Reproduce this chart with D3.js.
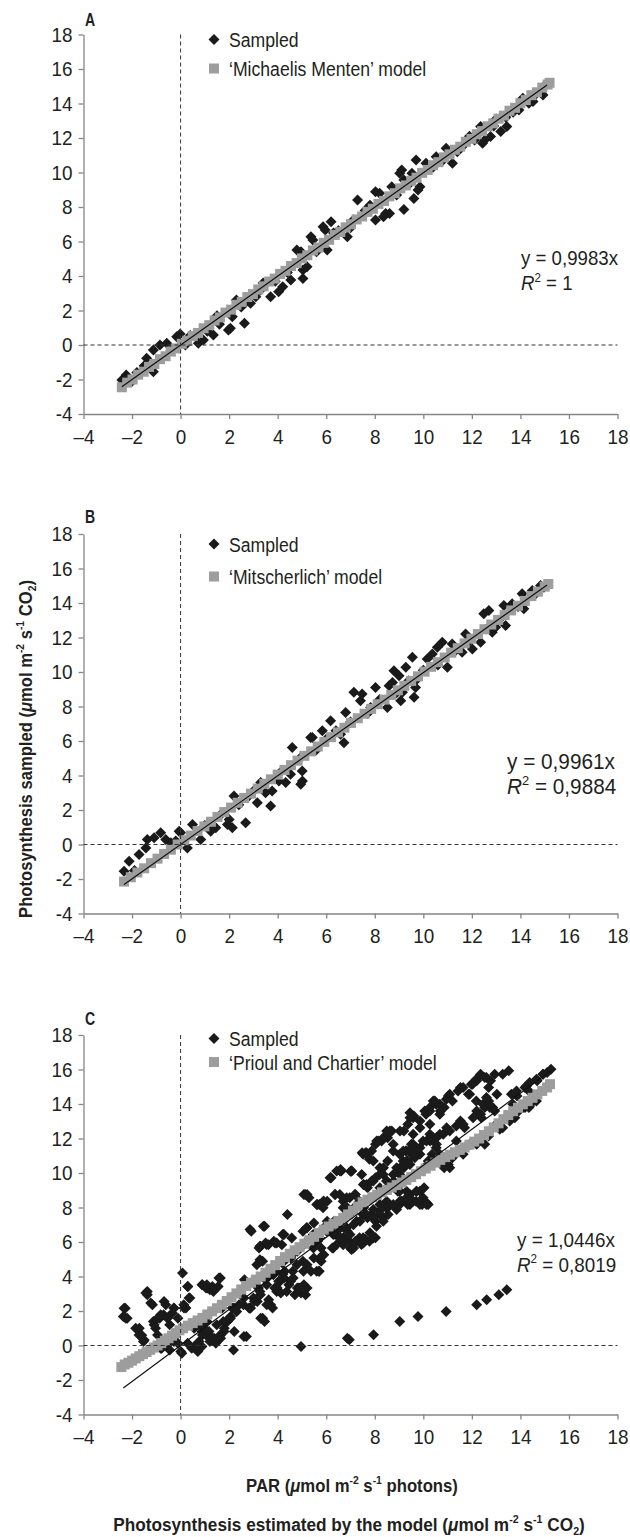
<!DOCTYPE html>
<html>
<head>
<meta charset="utf-8">
<script src="https://cdn.jsdelivr.net/npm/d3@7"></script>
<style>
  body { margin: 0; background: #fff; }
  svg text { font-family: "Liberation Sans", Arial, sans-serif; fill: #231f20; }
</style>
</head>
<body>
<div id="chart"></div>
<script>
// ---- data ----
const tickValues = [-4, -2, 0, 2, 4, 6, 8, 10, 12, 14, 16, 18];
const panelLetters = ['A', 'B', 'C'];
const modelNames = ['\u2018Michaelis Menten\u2019 model', '\u2018Mitscherlich\u2019 model', '\u2018Prioul and Chartier\u2019 model'];
const slopes = [0.9983, 0.9961, 1.0446];
const equations = ['y = 0,9983x', 'y = 0,9961x', 'y = 1,0446x'];
const r2Values = ['1', '0,9884', '0,8019'];

const sampledA = [
  [9.7,10.72],[9.11,10.14],[9.03,9.95],[9.2,9.57],[9.53,9.95],[10.11,10.53],[9.86,9.18],[9.78,8.99],[9.61,8.5],[9.2,7.86],
  [7.29,8.41],[8.03,8.89],[8.2,8.79],[8.7,9.18],[8.45,7.63],[8.61,7.63],[8.03,7.25],[8.36,7.44],
  [6.2,7.15],[5.96,6.67],[5.87,6.86],[6.04,5.51],[6.87,6.28],[7.12,7.25],[5.37,6.28],[5.45,6.09],[4.79,5.51],[4.96,5.41],
  [5.04,4.35],[5.21,4.54],[5.04,3.86],[4.54,3.77],[4.21,3.38],[4.04,3.09],[3.71,2.8],[3.29,3.19],[2.71,2.51],[2.88,2.42],
  [2.3,2.61],[2.13,1.64],[2.05,0.97],[2.63,1.26],[10.94,11.4],[10.53,10.92],[11.2,10.53],
  [12.36,12.66],[12.53,11.88],[12.77,12.08],[13.19,12.37],[13.44,12.66],[12.44,11.69],[12.11,11.88],
  [14.35,14.01],[14.52,14.11],[15.1,15.17],[14.93,14.49],[13.94,13.62],
  [-2.24,-1.74],[-2.42,-2.03],[-1.4,-0.77],[-1.12,-0.29],[-0.85,0],[-0.57,0.1],[-0.16,0.48],[-0.02,0.64],
  [0.73,0.1],[0.94,0.29],[1.35,0.58],[1.97,0.87],[-1.12,-1.55],
  [6.5,6.62],[7.6,7.8],[8.9,8.7],[10.4,10.3],[11.6,11.5],[11.9,12.1],[13.0,13.1],[13.7,13.5],[14.1,14.3],[14.8,14.7],
  [3.4,3.6],[3.9,3.7],[1.5,1.7],[0.4,0.55],[-0.4,-0.3],[-1.8,-1.6],[0.2,0.0],[1.1,0.8],[1.6,1.2],[2.5,2.2],[3.1,2.8],
  [4.4,4.2],[5.6,5.4],[6.3,6.5],[7.0,6.8],[7.8,8.1],[9.4,9.3],[10.8,10.7],[11.4,11.2],[12.9,12.7],[13.4,13.2],
  [14.6,14.5],[15.0,15.0],[-2.0,-2.1],[-1.5,-1.2]
];
const modelA = [
  [-2.42,-2.45],[-2.2,-2.18],[-1.98,-2.0],[-1.75,-1.72],[-1.52,-1.55],[-1.3,-1.27],[-1.08,-1.1],[-0.85,-0.82],[-0.62,-0.65],
  [-0.4,-0.38],[-0.18,-0.2],[0.05,0.07],[0.27,0.25],[0.5,0.52],[0.72,0.7],[0.95,0.97],[1.18,1.15],[1.4,1.42],[1.62,1.6],
  [1.85,1.88],[2.08,2.05],[2.3,2.33],[2.52,2.5],[2.75,2.78],[2.98,2.95],[3.2,3.22],[3.42,3.4],[3.65,3.68],[3.88,3.85],
  [4.1,4.12],[4.32,4.3],[4.55,4.58],[4.78,4.75],[5.0,5.02],[5.22,5.2],[5.45,5.48],[5.68,5.65],[5.9,5.92],[6.12,6.1],
  [6.35,6.38],[6.58,6.55],[6.8,6.82],[7.02,7.0],[7.25,7.28],[7.48,7.45],[7.7,7.72],[7.92,7.9],[8.15,8.18],[8.38,8.35],
  [8.6,8.62],[8.82,8.8],[9.05,9.08],[9.28,9.25],[9.5,9.52],[9.72,9.7],[9.95,9.98],[10.18,10.15],[10.4,10.42],[10.62,10.6],
  [10.85,10.88],[11.08,11.05],[11.3,11.32],[11.52,11.5],[11.75,11.78],[11.98,11.95],[12.2,12.22],[12.42,12.4],[12.65,12.68],
  [12.88,12.85],[13.1,13.12],[13.32,13.3],[13.55,13.58],[13.78,13.75],[14.0,14.02],[14.22,14.2],[14.45,14.48],[14.68,14.65],
  [14.9,14.92],[15.12,15.1],[15.2,15.2]
];

const sampledB = [
  [-2.33,-1.55],[-2.12,-0.97],[-1.71,-0.58],[-1.43,-0.2],[-1.37,0.29],[-1.09,0.39],[-0.82,0.68],[-0.61,0.29],[-0.4,0.1],
  [-0.06,0.77],[0,0.68],[0.28,-0.2],[0.49,1.16],[0.83,0.29],[1.24,0.77],[1.45,0.97],[1.93,1.16],[2.0,1.45],[2.2,2.81],
  [2.13,0.97],[2.68,1.26],[2.74,2.71],[3.16,2.42],[3.5,3.0],[3.71,2.23],[3.77,3.1],[4.05,3.68],[4.33,3.59],[4.53,4.07],
  [4.6,5.62],[4.95,5.04],[4.95,3.49],[5.01,4.26],[5.36,6.2],
  [5.02,3.68],[5.43,6.2],[5.84,6.59],[6.18,7.17],[6.59,6.39],[6.73,5.9],[6.8,7.65],[7.14,8.82],[7.41,8.33],[7.48,8.72],
  [7.83,7.94],[8.03,9.1],[8.52,7.94],[8.59,9.2],[8.73,9.39],[8.79,10.07],[9.0,9.78],[9.07,8.33],[9.14,8.82],[9.28,10.27],
  [9.55,10.85],[9.62,8.53],[9.68,9.1],[9.75,9.59],[10.16,10.75],[10.37,11.04],[10.58,11.43],[10.78,11.72],[10.99,10.27],
  [11.19,11.62],[11.6,11.14],[11.74,12.2],[12.02,11.33],[12.36,11.72],[12.49,13.37],[12.7,13.56],[12.84,12.3],[12.98,12.59],
  [13.32,13.85],[13.39,12.69],[13.66,13.95],[14.14,13.66],[14.07,14.53],[14.49,14.73],[14.83,15.02],[14.97,14.92],
  [-1.9,-1.5],[-0.2,0.2],[1.0,1.1],[1.7,1.8],[2.4,2.3],[3.0,3.1],[3.3,3.6],[4.2,4.3],[5.6,5.5],[6.0,6.1],[6.4,6.6],
  [7.0,7.1],[7.7,7.6],[8.2,8.4],[8.9,8.8],[9.4,9.5],[10.0,10.1],[10.6,10.4],[11.3,11.2],[11.9,11.8],[12.6,12.5],
  [13.1,13.0],[13.9,13.8],[14.6,14.5],[15.1,15.0]
];
const modelB = [
  [-2.33,-2.15],[-2.05,-1.9],[-1.78,-1.62],[-1.5,-1.38],[-1.22,-1.08],[-0.95,-0.82],[-0.68,-0.55],[-0.4,-0.3],[-0.12,0.0],
  [0.15,0.25],[0.42,0.52],[0.7,0.78],[0.98,1.05],[1.25,1.32],[1.52,1.6],[1.8,1.88],[2.08,2.14],[2.35,2.42],[2.62,2.7],
  [2.9,2.95],[3.18,3.24],[3.45,3.52],[3.72,3.78],[4.0,4.05],[4.28,4.32],[4.55,4.6],[4.82,4.86],[5.1,5.14],[5.38,5.4],
  [5.65,5.68],[5.92,5.95],[6.2,6.22],[6.48,6.5],[6.75,6.77],[7.02,7.05],[7.3,7.32],[7.58,7.58],[7.85,7.86],[8.12,8.13],
  [8.4,8.4],[8.68,8.67],[8.95,8.94],[9.22,9.2],[9.5,9.48],[9.78,9.75],[10.05,10.02],[10.32,10.3],[10.6,10.57],[10.88,10.84],
  [11.15,11.12],[11.42,11.38],[11.7,11.66],[11.98,11.93],[12.25,12.2],[12.52,12.48],[12.8,12.75],[13.08,13.02],[13.35,13.3],
  [13.62,13.57],[13.9,13.84],[14.18,14.12],[14.45,14.4],[14.72,14.66],[15.0,14.95],[15.15,15.1]
];

const sampledC = [
  [-2.28,2.16],[-2.36,1.68],[-2.2,1.58],[-1.37,3.13],[-1.37,2.94],[-1.16,2.36],[-1.7,1.0],[-1.6,0.6],[-1.53,0.23],
  [-1.12,1.39],[-1.03,1.0],[-0.95,0.61],[-0.61,2.36],[-0.7,1.78],[-0.86,1.58],[-0.45,1.2],[-0.28,2.17],[-0.11,1.58],
  [-0.78,-0.16],[-0.45,-0.26],[0.08,4.2],[0.13,2.36],[0.22,2.17],[0.3,3.42],[0.38,2.75],[0.05,-0.45],[-0.11,0.13],
  [0.46,-0.16],[0.71,-0.35],[0.88,-0.06],[0.88,3.52],[1.05,3.33],[1.21,3.23],[1.63,3.91],[1.55,3.42],[0.71,1.2],[0.88,0.81],
  [1.05,0.61],[1.21,0.23],[1.38,0.42],[1.63,0.61],[1.8,1.0],[1.88,1.39],[2.05,1.58],[2.13,2.17],[2.21,0.81],[2.18,-0.26],
  [1.88,2.56],[1.71,2.17],[2.63,3.81],[2.71,0.52],[2.91,6.62],[3.46,6.91],[2.88,2.17],[3.04,2.56],[3.29,2.94],[3.21,3.33],
  [3.29,5.75],[3.38,4.88],[3.38,1.58],[3.46,1.39],[3.54,5.85],[3.96,5.94],[4.21,6.43],[3.63,2.65],[3.71,2.36],[3.79,2.17],
  [3.88,3.33],[4.04,3.72],[4.13,3.04],[4.21,4.11],[4.29,4.3],[4.46,3.52],[4.71,2.94],[4.87,3.33],[4.96,3.04],[5.21,3.33],
  [4.54,5.07],[4.62,4.3],[4.79,4.68],[5.04,4.88],[5.21,4.68],[5.37,4.3],[4.96,-0.06],[5.21,8.75],[5.29,8.56],[5.04,6.62],
  [5.21,6.82],[5.46,6.43],[5.63,6.04],[5.79,5.65],[5.87,5.26],[5.71,4.3],[5.79,4.88],[5.71,8.17],[5.87,7.98],[6.04,8.36],
  [6.2,9.72],[6.37,8.75],[6.62,10.11],[7.04,10.11],[6.7,8.36],[6.87,7.98],[6.04,7.2],[6.2,6.82],[6.37,6.43],[6.54,7.1],
  [6.7,6.24],[6.87,6.62],[6.95,6.04],[7.12,5.65],[7.2,6.04],[7.37,6.24],[7.45,5.85],[7.62,6.14],[7.78,6.04],[8.03,6.24],
  [6.95,0.33],[7.95,0.62],[7.2,8.75],[7.37,8.36],[7.54,7.98],[7.7,7.4],[7.87,7.59],[8.03,7.2],[8.2,7.79],[8.36,7.4],
  [8.53,7.98],[7.54,9.33],[7.7,9.14],[7.87,9.53],[8.03,9.72],[8.2,9.91],[8.36,10.3],[8.53,10.69],[7.62,11.18],[7.78,10.79],
  [8.03,11.66],[8.28,11.86],[8.53,12.05],[8.7,12.44],[8.78,9.53],[8.95,8.94],[9.03,9.91],[9.2,10.3],[9.36,10.69],[9.53,11.08],
  [9.28,11.27],[9.53,11.47],[9.11,8.36],[9.36,8.17],[9.7,8.36],[9.95,8.17],[10.2,8.17],[9.86,8.94],[10.03,9.14],[9.03,1.39],
  [9.78,1.68],[9.2,12.44],[9.36,12.83],[9.61,13.31],[9.86,13.02],[10.11,13.41],[10.03,10.3],[10.2,10.69],[10.36,11.08],
  [10.53,11.47],[10.28,11.86],[10.53,13.99],[10.7,13.6],[10.86,13.79],[11.03,14.47],[11.2,14.18],[10.86,10.3],[11.03,10.5],
  [11.2,10.89],[10.94,1.97],[11.36,11.86],[11.53,13.02],[11.7,12.63],[11.53,14.96],[11.86,14.57],[12.03,15.15],[12.2,15.35],
  [12.36,15.73],[12.53,15.54],[12.69,14.96],[12.77,15.35],[12.94,15.73],[12.2,13.6],[12.36,13.41],[12.53,13.79],[12.69,14.18],
  [12.86,13.79],[13.03,14.57],[11.7,11.47],[11.95,11.66],[12.2,11.66],[12.53,11.66],[12.69,12.15],[12.2,2.36],[12.61,2.65],
  [13.11,2.94],[13.44,3.23],[13.52,15.93],[13.27,12.63],[13.77,13.21],[13.86,14.47],[14.19,14.96],[14.35,14.76],[14.19,13.79],
  [14.52,14.18],[14.69,15.35],[14.93,15.73],[15.1,15.83],[15.26,16.02],[13.69,13.99],[13.93,13.6],[14.35,13.79],
  [-2.33,2.16],[-2.26,1.58],[-1.43,3.04],[-1.23,2.46],[-0.68,2.55],[-0.27,2.16],[-1.85,1.0],[-1.71,0.61],[-1.5,0.32],
  [-1.09,1.2],[-0.95,1.58],[-0.82,1.78],[-0.54,1.58],[-0.34,1.88],[0.29,3.42],[0.35,2.75],[0.14,2.17],[0.9,3.52],
  [1.1,3.33],[1.31,3.42],[1.58,3.91],[-0.82,-0.16],[-0.54,0.03],[-0.27,0.23],[0.01,-0.35],[0.29,0.13],[0.56,-0.06],
  [0.76,0.23],[0.9,0.61],[0.97,1.0],[1.17,0.81],[1.31,0.42],[1.45,0.13],[1.65,0.42],[1.79,0.81],[1.93,1.39],[2.06,1.68],
  [0.56,1.0],[0.69,1.39],[0.9,1.2],[2.2,2.17],[2.41,2.36],[2.61,2.75],[2.82,2.17],[3.23,5.65],[3.5,5.94],[3.84,6.04],
  [4.26,6.43],[3.3,4.88],[3.16,3.42],[3.5,3.81],[3.71,4.1],[3.92,4.3],[4.19,4.78],[4.4,5.07],[4.6,5.26],[4.81,5.46],
  [5.01,5.75],[5.22,6.04],[5.43,6.24],[5.63,6.04],[3.44,4.1],[3.16,2.55],[3.3,1.58],[3.98,3.33],[4.26,3.91],[4.53,3.72],
  [4.81,3.33],[5.08,3.52],[5.15,2.94],[4.4,7.59],[5.08,8.75],[5.63,8.17],[6.18,9.72],[6.59,10.2],[7.0,10.1],[7.48,11.18],
  [5.49,7.1],[5.9,6.82],[6.32,7.2],[6.59,6.82],[6.93,7.69],[7.14,7.98],[5.49,5.07],[5.7,4.3],[6.45,6.43],[6.73,6.04],
  [7.0,5.65],[5.9,5.26],[6.25,5.65],[6.87,0.42],[2.61,0.52],
  [14.93,15.73],[14.66,15.44],[14.38,15.25],[14.25,15.05],[13.27,15.73],[12.6,15.54],[12.18,15.44],[11.98,15.15],
  [11.64,14.96],[11.43,14.76],[11.09,14.57],[10.95,14.28],[10.68,13.99],[10.47,14.18],[10.27,13.79],[10.06,13.6],
  [9.58,13.21],[9.45,13.5],[11.91,14.57],[12.18,14.18],[12.46,13.99],[12.6,14.38],[12.74,13.79],[12.94,13.6],[12.39,13.21],
  [12.05,13.21],[11.64,12.83],[11.36,12.73],[11.09,12.44],[10.82,12.24],[10.54,12.05],[10.27,12.24],[9.99,11.86],
  [9.72,11.47],[9.51,11.66],[9.31,11.28],[9.03,11.08],[8.76,11.28],[8.62,12.44],[8.35,12.05],[8.14,11.86],[7.52,11.08],
  [7.87,11.28],[6.43,10.11],[8.9,10.3],[9.17,10.69],[9.45,10.5],[9.65,10.89],[9.86,11.08],[10.54,11.66],[8.21,10.3],
  [8.35,9.91],[8.49,9.53],[8.62,9.14],[7.94,9.53],[7.66,9.33],[7.46,9.91],[10.89,10.59],[11.09,10.3],[11.64,11.08],
  [11.91,11.66],[12.18,11.86],[12.6,12.24],[13.0,12.83],[13.15,12.53],[13.56,13.02],[14.11,13.79],[14.38,13.89],
  [14.66,14.18],[13.63,14.57],[13.84,14.76],[9.03,8.94],[9.45,8.75],[9.72,8.94],[9.99,8.56],[10.13,8.27],[9.86,8.17],
  [9.45,8.17],[9.03,8.17],[8.9,7.88],[8.55,7.59],[8.35,7.2],[8.07,6.91],[7.8,6.53],[7.52,6.24],[7.25,6.04],[6.7,6.04],
  [6.43,5.85],[6.29,5.65],[7.04,5.56],[7.94,7.88],[8.21,8.17],[8.49,8.36],[7.52,7.59],[7.25,7.2],[6.97,7.59],[6.7,7.98],
  [6.56,8.75],[6.97,8.56],
  [2.86,6.72],[3.41,6.91],[3.27,5.75],[3.62,5.84],[3.89,5.94],[4.23,6.43],[4.17,5.84],[4.58,6.23],[3.27,4.97],[5.13,8.75],
  [5.19,6.82],[5.61,8.17],[5.89,8.37],[6.16,9.72],[6.57,10.11],[7.05,10.11],[6.36,8.75],[6.84,8.56],[7.18,8.75],[7.53,9.33],
  [7.66,11.18],[7.94,10.69],[8.08,11.86],[8.49,12.44],[9.04,12.44],[9.45,13.21],[10.27,13.6],[10.41,14.18],
  [5.19,6.04],[5.47,5.65],[5.74,6.23],[6.02,6.62],[6.29,6.43],[6.57,6.23],[6.84,6.82],[7.12,7.0],[7.39,7.2],[7.66,7.59],
  [7.94,7.39],[8.21,7.59],[8.49,7.98],[8.76,8.17],[9.04,8.37],[9.31,8.56],[9.58,8.37],[10.13,8.17],[9.72,8.94],
  [6.7,5.84],[7.12,5.65],[7.53,5.94],[7.94,6.23],[6.98,6.43],[5.74,5.07],[5.61,4.3],[5.06,4.3],[4.64,3.91],[4.92,3.33],
  [4.37,3.13],[4.1,3.72],[3.82,4.1],[3.55,3.52],[3.27,3.13],[3.0,2.75],[2.86,2.16],[2.59,2.36],[2.31,1.97],[2.04,1.58],
  [1.76,1.39],[1.49,1.2],[1.08,1.39],[3.55,2.36],[3.96,3.13],[1.63,3.91],[1.08,3.52],[1.35,3.13],[3.14,4.68],
  [8.21,9.14],[8.49,9.53],[8.76,9.91],[9.04,10.3],[9.31,10.69],[9.58,11.08],[9.86,11.47],[10.13,11.86],[10.41,12.05],
  [10.68,12.24],[10.96,12.63],[8.76,11.66],[9.17,11.28],[9.58,12.24],[9.86,12.63],[10.27,12.83],[10.68,13.41],[9.58,11.66],
  [9.04,9.33],[9.31,8.94],[10.41,10.69],[10.82,10.5],[10.68,11.08]
];
const modelC = [
  [-2.44,-1.25],[-2.3,-1.1],[-2.15,-1.0],[-2.0,-0.88],[-1.85,-0.75],[-1.7,-0.62],[-1.55,-0.5],[-1.4,-0.38],[-1.25,-0.25],
  [-1.1,-0.12],[-0.95,0.0],[-0.8,0.14],[-0.65,0.28],[-0.5,0.42],[-0.35,0.57],[-0.2,0.72],[-0.05,0.88],[0.1,1.0],[0.3,1.15],
  [0.5,1.3],[0.7,1.45],[0.9,1.6],[1.1,1.8],[1.3,1.98],[1.5,2.16],[1.7,2.36],[1.9,2.58],[2.1,2.8],[2.3,3.02],[2.5,3.25],
  [2.7,3.45],[2.9,3.64],[3.1,3.82],[3.3,4.0],[3.5,4.22],[3.7,4.45],[3.9,4.66],[4.1,4.9],[4.3,5.12],[4.5,5.32],[4.7,5.52],
  [4.9,5.7],[5.1,5.9],[5.3,6.1],[5.5,6.3],[5.7,6.52],[5.9,6.72],[6.1,6.9],[6.3,7.06],[6.5,7.22],[6.7,7.4],[6.9,7.6],
  [7.1,7.82],[7.3,8.05],[7.5,8.3],[7.7,8.45],[7.9,8.6],[8.1,8.74],[8.3,8.88],[8.5,9.02],[8.7,9.16],[8.9,9.3],[9.1,9.45],
  [9.3,9.6],[9.5,9.76],[9.7,9.93],[9.9,10.1],[10.1,10.26],[10.3,10.42],[10.5,10.6],[10.7,10.76],[10.9,10.92],[11.1,11.06],
  [11.3,11.2],[11.5,11.34],[11.7,11.48],[11.9,11.64],[12.1,11.82],[12.3,12.0],[12.5,12.2],[12.7,12.42],[12.9,12.64],
  [13.1,12.88],[13.3,13.12],[13.5,13.36],[13.7,13.58],[13.9,13.78],[14.1,13.98],[14.3,14.17],[14.5,14.36],[14.7,14.56],
  [14.9,14.76],[15.1,14.96],[15.22,15.15]
];

const sampledSets = [sampledA, sampledB, sampledC];
const modelSets = [modelA, modelB, modelC];

// ---- layout ----
const W = 630, H = 1537;
const left = 83.5, right = 617.5, plotH = 379.5;
const panels = [
  {top: 34.5, letterY: 26, leg: [5, 34], eqX: 521, eqY: 5.05, eqW: 97},
  {top: 534, letterY: 522.5, leg: [10, 42.5], eqX: 507, eqY: 4.84, eqW: 108},
  {top: 1035, letterY: 1024.5, leg: [3.5, 27], eqX: 517, eqY: 6.16, eqW: 98}
];
const axisColor = '#868686';
const markFill = '#1a1a1a', modelFill = '#9d9d9d';
const diamond = 'M0,-5.5L5.5,0L0,5.5L-5.5,0Z';
const sq = 10;
const narrow = 0.84;   // the figure uses a condensed face
const tickK = 0.9, tickPadY = 6;

const svg = d3.select('#chart').append('svg')
  .attr('width', W).attr('height', H)
  .attr('viewBox', `0 0 ${W} ${H}`);

// text inside a positioned group so it can be squeezed horizontally
function label(parent, x, y, size, opts = {}) {
  const g = parent.append('g').attr('transform', `translate(${x},${y})${opts.rotate ? ` rotate(${opts.rotate})` : ''}`);
  const t = g.append('text').attr('font-size', size)
    .attr('text-anchor', opts.anchor || 'start')
    .attr('font-weight', opts.bold ? 'bold' : null);
  return t;
}
function squeeze(t, k) { t.attr('transform', `scale(${k},1)`); return k; }
function fitTo(t, width) { return squeeze(t, width / t.node().getComputedTextLength()); }

function rich(textSel, parts, size) {
  let shift = 0;
  parts.forEach(p => {
    const target = p.sup ? -size * 0.4 : p.sub ? size * 0.22 : 0;
    const ts = textSel.append('tspan').text(p.t).attr('dy', target - shift);
    shift = target;
    if (p.sup || p.sub) ts.attr('font-size', size * 0.62);
    if (p.it) ts.attr('font-style', 'italic');
  });
}

const x = d3.scaleLinear().domain([-4, 18]).range([left, right]);

panels.forEach((p, i) => {
  const y = d3.scaleLinear().domain([-4, 18]).range([p.top + plotH, p.top]);
  const g = svg.append('g');

  // axes
  const yAxis = g.append('g').attr('transform', `translate(${left},0)`)
    .call(d3.axisLeft(y).tickValues(tickValues).tickSize(5).tickSizeOuter(0).tickPadding(tickPadY)
      .tickFormat(d => d < 0 ? '-' + Math.abs(d) : d));
  const xAxis = g.append('g').attr('transform', `translate(0,${y(-4)})`)
    .call(d3.axisBottom(x).tickValues(tickValues).tickSize(5).tickSizeOuter(0).tickPadding(10)
      .tickFormat(d => d < 0 ? '\u2013' + Math.abs(d) : d));
  [yAxis, xAxis].forEach(a => {
    a.attr('font-family', null).attr('font-size', null);
    a.select('.domain').attr('stroke', axisColor).attr('stroke-width', 1.3);
    a.selectAll('.tick line').attr('stroke', axisColor).attr('stroke-width', 1.3);
    a.selectAll('.tick text').attr('font-size', 21).attr('fill', '#231f20')
      .attr('transform', `scale(${tickK},1)`);
  });
  yAxis.selectAll('.tick text').attr('x', -(5 + tickPadY) / tickK);

  // sampled points
  g.append('g').selectAll('path')
    .data(sampledSets[i]).join('path')
    .attr('d', diamond)
    .attr('transform', d => `translate(${x(d[0])},${y(d[1])})`)
    .attr('fill', markFill);

  // model points
  g.append('g').selectAll('rect')
    .data(modelSets[i]).join('rect')
    .attr('x', d => x(d[0]) - sq / 2).attr('y', d => y(d[1]) - sq / 2)
    .attr('width', sq).attr('height', sq)
    .attr('fill', modelFill);

  // trend line through the origin, over the sampled x range
  const ext = d3.extent(sampledSets[i], d => d[0]);
  g.append('line')
    .attr('x1', x(ext[0])).attr('y1', y(slopes[i] * ext[0]))
    .attr('x2', x(ext[1])).attr('y2', y(slopes[i] * ext[1]))
    .attr('stroke', '#111').attr('stroke-width', 1.2);

  // dashed zero lines
  g.append('line')
    .attr('x1', x(0)).attr('x2', x(0)).attr('y1', y(18)).attr('y2', y(-4))
    .attr('stroke', '#333').attr('stroke-width', 1).attr('stroke-dasharray', '4,3');
  g.append('line')
    .attr('x1', x(-4)).attr('x2', x(18)).attr('y1', y(0)).attr('y2', y(0))
    .attr('stroke', '#333').attr('stroke-width', 1).attr('stroke-dasharray', '4,3');

  // panel letter
  squeeze(label(g, 90, p.letterY, 18, {anchor: 'middle', bold: true}).text(panelLetters[i]), 0.78);

  // legend
  const ly1 = p.top + p.leg[0], ly2 = p.top + p.leg[1];
  g.append('path').attr('d', diamond).attr('transform', `translate(214,${ly1})`).attr('fill', markFill);
  squeeze(label(g, 229, ly1 + 7.5, 21).text('Sampled'), narrow);
  g.append('rect').attr('x', 214 - sq / 2).attr('y', ly2 - sq / 2).attr('width', sq).attr('height', sq).attr('fill', modelFill);
  squeeze(label(g, 229, ly2 + 7.5, 21).text(modelNames[i]), narrow);

  // equation
  const ey = y(p.eqY);
  const eqSize = i === 1 ? 22 : 21;
  const k = fitTo(label(g, p.eqX, ey + 7.5, eqSize).text(equations[i]), p.eqW);
  const r2 = label(g, p.eqX, ey + 32.5, eqSize);
  rich(r2, [{t: 'R', it: true}, {t: '2', sup: true}, {t: ' = ' + r2Values[i]}], eqSize);
  squeeze(r2, k);
});

// axis titles
const yTitle = label(svg, 32, 749, 19, {anchor: 'middle', bold: true, rotate: -90});
rich(yTitle, [{t: 'Photosynthesis sampled ('}, {t: '\u03bc', it: true}, {t: 'mol m'}, {t: '-2', sup: true},
  {t: ' s'}, {t: '-1', sup: true}, {t: ' CO'}, {t: '2', sub: true}, {t: ')'}], 19);
fitTo(yTitle, 338);

const xTitle1 = label(svg, 352, 1492, 19, {anchor: 'middle', bold: true});
rich(xTitle1, [{t: 'PAR ('}, {t: '\u03bc', it: true}, {t: 'mol m'}, {t: '-2', sup: true},
  {t: ' s'}, {t: '-1', sup: true}, {t: ' photons)'}], 19);
fitTo(xTitle1, 212);

const xTitle2 = label(svg, 349, 1531, 19, {anchor: 'middle', bold: true});
rich(xTitle2, [{t: 'Photosynthesis estimated by the model ('}, {t: '\u03bc', it: true}, {t: 'mol m'}, {t: '-2', sup: true},
  {t: ' s'}, {t: '-1', sup: true}, {t: ' CO'}, {t: '2', sub: true}, {t: ')'}], 19);
fitTo(xTitle2, 472);
</script>
</body>
</html>
